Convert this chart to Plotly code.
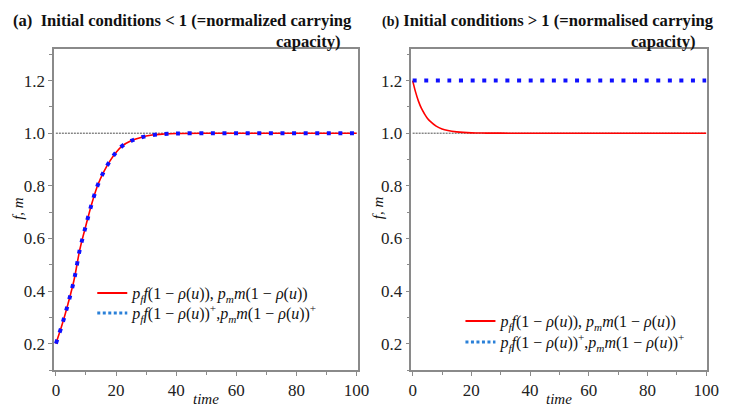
import plotly.graph_objects as go

# ---- data ----
time_a = [0, 2, 4, 6, 8, 10, 12, 14, 16, 18, 20, 22, 25, 28, 32, 36, 40, 50, 60, 70, 80, 90, 100]
growth_a = [0.200, 0.270, 0.350, 0.440, 0.560, 0.650, 0.735, 0.805, 0.855, 0.895, 0.927, 0.951,
            0.971, 0.983, 0.993, 0.997, 0.999, 1.0, 1.0, 1.0, 1.0, 1.0, 1.0]
growth_a_plus = growth_a[:]  # identical for initial conditions < 1

time_b = [0, 1, 2, 3, 4, 5, 6, 8, 10, 12, 15, 20, 25, 30, 40, 50, 60, 70, 80, 90, 100]
growth_b = [1.2, 1.156, 1.121, 1.094, 1.074, 1.057, 1.045, 1.027, 1.016, 1.010, 1.005, 1.0013,
            1.0004, 1.0001, 1.0, 1.0, 1.0, 1.0, 1.0, 1.0, 1.0]
growth_b_plus = [1.2] * len(time_b)

cap_t = [0, 100]
cap_v = [1.0, 1.0]

x_ticks = [0, 20, 40, 60, 80, 100]
y_ticks = [0.2, 0.4, 0.6, 0.8, 1.0, 1.2]

label_1 = ("<i>p</i><sub><i>f</i></sub><i>f</i>(1 − <i>ρ</i>(<i>u</i>)), "
           "<i>p</i><sub><i>m</i></sub><i>m</i>(1 − <i>ρ</i>(<i>u</i>))")
label_2 = ("<i>p</i><sub><i>f</i></sub><i>f</i>(1 − <i>ρ</i>(<i>u</i>))<sup>+</sup>,"
           "<i>p</i><sub><i>m</i></sub><i>m</i>(1 − <i>ρ</i>(<i>u</i>))<sup>+</sup>")

RED = "#ff0000"
BLUE = "#1010ff"
LEG_BLUE = "#2a80d8"
SERIF = "Liberation Serif"

# page body has an 8px margin: work in reference pixels and shift
OFF = 8
W, H = 729 - OFF, 408 - OFF
def px(xr): return (xr - OFF) / W
def py(yr): return 1 - (yr - OFF) / H

fig = go.Figure()

panels = [("x", "y", time_a, growth_a, growth_a_plus, ("legend", "legend2")),
          ("x2", "y2", time_b, growth_b, growth_b_plus, ("legend3", "legend4"))]
for xa, ya, t, v, vp, legs in panels:
    fig.add_trace(go.Scatter(x=cap_t, y=cap_v, xaxis=xa, yaxis=ya, mode="lines",
                             line=dict(color="#222", width=0.8, dash="2px,1px"),
                             showlegend=False, hoverinfo="skip"))
    fig.add_trace(go.Scatter(x=t, y=v, xaxis=xa, yaxis=ya, mode="lines",
                             line=dict(color=RED, width=1.6, shape="spline"),
                             showlegend=False))
    fig.add_trace(go.Scatter(x=t, y=vp, xaxis=xa, yaxis=ya, mode="lines",
                             line=dict(color=BLUE, width=4, dash="4px,7.6px", shape="spline"),
                             showlegend=False))
    fig.add_trace(go.Scatter(x=[None], y=[None], xaxis=xa, yaxis=ya, mode="lines",
                             line=dict(color=RED, width=2), name=label_1, legend=legs[0]))
    fig.add_trace(go.Scatter(x=[None], y=[None], xaxis=xa, yaxis=ya, mode="lines",
                             line=dict(color=LEG_BLUE, width=3, dash="3px,2.5px"), name=label_2,
                             legend=legs[1]))

GREY = "#8a8a8a"
axis_common = dict(showline=True, linecolor=GREY, linewidth=1.5, mirror=True,
                   ticks="outside", ticklen=4, tickcolor=GREY, tickwidth=1,
                   showgrid=False, zeroline=False,
                   tickfont=dict(family=SERIF, size=17, color="#222"))
xminor = dict(dtick=10, ticks="outside", ticklen=3, tickcolor=GREY)
yminor = dict(dtick=0.1, tick0=0.1, ticks="outside", ticklen=3, tickcolor=GREY)

ydom = [py(370), py(49)]
leg_font = dict(family=SERIF, size=16, color="#111")

def legend_at(xr, yr):
    return dict(x=px(xr), y=py(yr), xanchor="left", yanchor="middle", bgcolor="rgba(0,0,0,0)",
                font=leg_font, itemwidth=30)

fig.update_layout(
    width=W, height=H, margin=dict(l=0, r=0, t=0, b=0),
    paper_bgcolor="white", plot_bgcolor="white",
    xaxis=dict(domain=[px(52), px(362)], range=[-0.6, 100.35], anchor="y", tickvals=x_ticks,
               minor=xminor, **axis_common),
    yaxis=dict(domain=ydom, range=[0.1, 1.32], anchor="x", tickvals=y_ticks, tickformat=".1f",
               minor=yminor, **axis_common),
    xaxis2=dict(domain=[px(417), px(719)], range=[-0.4, 100.35], anchor="y2", tickvals=x_ticks,
                minor=xminor, **axis_common),
    yaxis2=dict(domain=ydom, range=[0.1, 1.32], anchor="x2", tickvals=y_ticks, tickformat=".1f",
                minor=yminor, **axis_common),
    legend=legend_at(91, 293),
    legend2=legend_at(91, 313),
    legend3=legend_at(467, 321),
    legend4=legend_at(467, 342),
    showlegend=True,
)

title_font = dict(family=SERIF, size=16.6, color="#111")
ann = []
ann.append(dict(text="<b>(a)  Initial conditions &lt; 1 (=normalized carrying</b>", x=px(358), y=py(20),
                xanchor="right", yanchor="middle", font=title_font))
ann.append(dict(text="<b>capacity)</b>", x=px(347), y=py(41), xanchor="right", yanchor="middle", font=title_font))
ann.append(dict(text="<b><span style='font-size:14px'>(b)</span> Initial conditions &gt; 1 (=normalised carrying</b>",
                x=px(728), y=py(20), xanchor="right", yanchor="middle", font=title_font))
ann.append(dict(text="<b>capacity)</b>", x=px(710), y=py(41), xanchor="right", yanchor="middle", font=title_font))
label_font = dict(family=SERIF, size=15, color="#111")
for xl in (15, 383):
    ann.append(dict(text="<i>f, m</i>", x=px(xl), y=py(208), textangle=-90, xanchor="center", yanchor="middle",
                    font=label_font))
for xl in (207, 568):
    ann.append(dict(text="<i>time</i>", x=px(xl), y=py(399), xanchor="center", yanchor="middle", font=label_font))
for a in ann:
    a.update(xref="paper", yref="paper", showarrow=False)
fig.update_layout(annotations=ann)

fig.write_html("out.html")
